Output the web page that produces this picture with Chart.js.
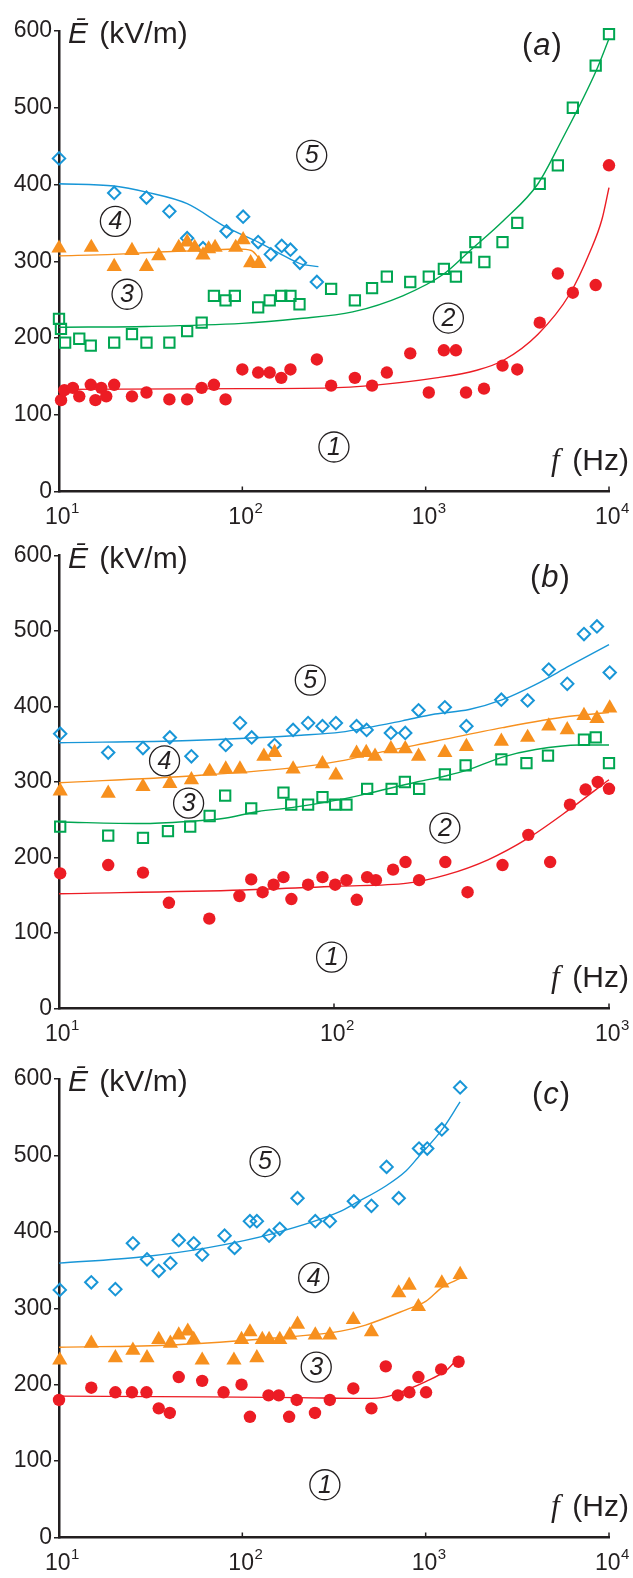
<!DOCTYPE html>
<html>
<head>
<meta charset="utf-8">
<script src="https://cdn.jsdelivr.net/npm/chart.js@4.4.1/dist/chart.umd.min.js"></script>
<style>
  html, body { margin: 0; padding: 0; background: #fff; }
  body { width: 633px; height: 1578px; position: relative; overflow: hidden; }
  .panel { position: absolute; left: 0; width: 633px; }
</style>
</head>
<body>
<div class="panel" style="top:0px;height:530px"><canvas id="chartA" width="633" height="530"></canvas></div>
<div class="panel" style="top:530px;height:520px"><canvas id="chartB" width="633" height="520"></canvas></div>
<div class="panel" style="top:1050px;height:528px"><canvas id="chartC" width="633" height="528"></canvas></div>
<script>
// tick values
const yTicks = [0, 100, 200, 300, 400, 500, 600]
const aTicks = [10, 100, 1000, 10000]
const bTicks = [10, 100, 1000]
const cTicks = [10, 100, 1000, 10000]

// ---- panel (a) ----
const aRedF = [10.26, 10.7, 11.9, 12.9, 14.9, 15.8, 17, 18.1, 20, 25, 30, 40, 50, 60, 70, 81, 100, 122, 141, 163, 183, 255, 305, 411, 510, 614, 824, 1040, 1257, 1462, 1660, 2080, 2625, 3160, 4190, 5260, 6350, 8460, 10000]
const aRedE = [119, 132, 135, 124, 139, 119, 135, 124, 139, 124, 129, 120, 120, 135, 139, 120, 159, 155, 155, 148, 159, 172, 138, 148, 138, 155, 180, 129, 184, 184, 129, 134, 164, 159, 220, 284, 259, 269, 425]
const aRedFitF = [10, 100, 300, 500, 1140, 1900, 2660, 4100, 6100, 7900, 9140, 10000]
const aRedFitE = [133, 134, 135, 138, 148, 158, 171, 205, 257, 313, 354, 396]

const aGreenF = [10, 10.25, 10.8, 12.9, 14.9, 20, 25, 30, 40, 50, 60, 70, 81, 91, 122, 141, 163, 183, 205, 305, 411, 510, 614, 824, 1040, 1257, 1462, 1660, 1866, 2090, 2625, 3160, 4190, 5260, 6350, 8460, 10000]
const aGreenE = [225, 212, 194, 199, 190, 194, 205, 194, 194, 209, 220, 255, 249, 255, 240, 249, 255, 255, 244, 264, 249, 265, 280, 273, 280, 290, 280, 305, 325, 299, 325, 350, 401, 425, 500, 555, 596]
const aGreenFitF = [10, 30, 100, 200, 400, 750, 1250, 1750, 2660, 4100, 5500, 8500, 10000]
const aGreenFitE = [214, 215, 219, 225, 234, 255, 283, 314, 353, 401, 457, 548, 590]

const aOrangeF = [10, 15, 20, 25, 30, 35, 45, 50, 55, 61, 65.5, 71, 92, 101, 111, 123]
const aOrangeE = [317, 318, 293, 314, 293, 307, 318, 325, 318, 308, 316, 318, 318, 328, 298, 297]
const aOrangeFitF = [10, 20, 35, 60, 95, 112, 125]
const aOrangeFitE = [307, 309, 312, 314, 316, 314, 302]

const aBlueF = [10, 20, 30, 40, 50, 61, 82, 101, 122, 143, 164, 183, 206, 255]
const aBlueE = [434, 389, 383, 365, 330, 317, 339, 358, 325, 309, 320, 315, 298, 273]
const aBlueFitF = [10, 20, 30, 50, 82, 122, 160, 206, 260]
const aBlueFitE = [401, 398, 390, 375, 344, 325, 310, 297, 293]

// ---- panel (b) ----
const bRedF = [10.1, 15.1, 20.2, 25.1, 35.2, 45.3, 50, 55, 60.3, 65.5, 70, 80.5, 90.8, 101, 111, 121, 132, 142, 164, 182, 204, 254, 306, 410, 509, 611, 721, 822, 910, 1000]
const bRedE = [179, 190, 180, 140, 119, 149, 171, 154, 164, 174, 145, 164, 174, 164, 170, 144, 174, 170, 184, 194, 170, 194, 154, 190, 230, 194, 270, 290, 300, 291]
const bRedFitF = [10, 47, 103, 185, 256, 363, 510, 720, 1000]
const bRedFitE = [152, 157, 162, 166, 177, 197, 226, 264, 303]

const bGreenF = [10.1, 15.1, 20.2, 24.9, 30, 35.3, 40.2, 50, 65.5, 69.9, 80.5, 90.8, 101, 111, 132, 162, 181, 204, 253, 301, 406, 501, 600, 811, 895, 1000]
const bGreenE = [241, 229, 226, 235, 241, 255, 282, 265, 286, 270, 270, 280, 270, 270, 291, 291, 300, 291, 310, 322, 330, 325, 335, 356, 359, 325]
const bGreenFitF = [10, 20, 30, 40, 53, 70, 106, 130, 200, 254, 301, 410, 541, 780, 1000]
const bGreenFitE = [247, 245, 248, 252, 261, 266, 277, 284, 300, 308, 315, 333, 343, 349, 349]

const bOrangeF = [10.1, 15.1, 20.2, 25.3, 30.3, 35.3, 40.4, 45.5, 55.6, 60.8, 71, 90.8, 101.6, 120.8, 131, 141, 161, 181.6, 203, 253, 303, 406, 506, 604, 705, 811, 904, 1006]
const bOrangeE = [288, 285, 294, 298, 303, 314, 317, 317, 334, 339, 317, 324, 309, 338, 339, 334, 344, 344, 334, 339, 347, 354, 359, 374, 369, 388, 384, 398]
const bOrangeFitF = [10, 30, 76, 106, 133, 233, 410, 720, 1000]
const bOrangeFitE = [299, 308, 320, 328, 336, 354, 372, 387, 392]

const bBlueF = [10.1, 15.1, 20.2, 25.3, 30.3, 40.4, 45.5, 50.2, 60.8, 71, 80.5, 90.8, 101.6, 120.8, 131.4, 161, 181.6, 203, 253, 303, 406, 506, 604, 705, 811, 904, 1006]
const bBlueE = [364, 339, 345, 359, 334, 349, 378, 359, 349, 369, 378, 374, 378, 374, 369, 365, 365, 395, 399, 374, 409, 408, 449, 430, 496, 506, 445]
const bBlueFitF = [10, 30, 76, 106, 133, 177, 233, 310, 410, 540, 720, 1000]
const bBlueFitE = [352, 355, 362, 366, 372, 381, 390, 396, 409, 429, 454, 482]

// ---- panel (c) ----
const cRedF = [10, 15, 20.3, 25, 30, 35, 40.2, 45, 60.4, 79, 99, 110, 139, 158, 180, 198, 249, 300, 403, 506, 606, 705, 815, 913, 1005, 1215, 1512]
const cRedE = [180, 196, 190, 190, 190, 169, 163, 210, 205, 190, 200, 158, 186, 186, 158, 180, 163, 180, 195, 169, 224, 186, 190, 210, 190, 220, 230]
const cRedFitF = [10, 64, 200, 470, 606, 783, 1000, 1300, 1440]
const cRedFitE = [185, 184, 183, 182, 184, 193, 204, 219, 230]

const cOrangeF = [10.1, 15, 20.3, 25.3, 30.2, 35, 40.5, 45, 50.4, 54.3, 60.4, 90, 99, 110, 120, 128.5, 140, 160, 181.6, 200, 250, 300, 403, 506, 713, 813, 913, 1225, 1542]
const cOrangeE = [232, 254, 235, 245, 235, 259, 254, 265, 270, 259, 232, 232, 259, 269, 235, 259, 259, 259, 265, 279, 265, 265, 285, 269, 320, 330, 302, 333, 344]
const cOrangeFitF = [10, 42, 149, 345, 470, 780, 1000, 1240, 1540]
const cOrangeFitE = [249, 252, 261, 270, 278, 298, 309, 328, 339]

const cBlueF = [10.1, 15, 20.3, 25.3, 30.2, 35, 40.5, 45, 54.3, 60.4, 80, 90.7, 110, 120, 140, 160, 200, 250, 300, 406, 506, 612, 713, 920, 1020, 1225, 1542]
const cBlueE = [324, 334, 325, 385, 364, 349, 359, 389, 385, 370, 395, 379, 414, 414, 395, 404, 444, 414, 414, 440, 434, 485, 444, 509, 509, 534, 589]
const cBlueFitF = [10, 28, 64, 149, 345, 403, 606, 783, 906, 1240, 1540]
const cBlueFitE = [359, 367, 379, 398, 427, 436, 460, 480, 497, 535, 570]

const INK = '#231f20'
const RED = '#ec1c24'
const GREEN = '#00a651'
const ORANGE = '#f7901e'
const BLUE = '#1896d7'

Chart.defaults.font.family = '"Liberation Sans", Arial, sans-serif'

const pts = (fs, es) => fs.map((f, i) => ({ x: f, y: es[i] }))

// marker sets
const dots = (fs, es) => ({ data: pts(fs, es), pointStyle: 'circle', pointRadius: 6.2, backgroundColor: RED, borderColor: RED, borderWidth: 0, showLine: false, order: 1, clip: false })
const squares = (fs, es) => ({ data: pts(fs, es), pointStyle: 'rect', pointRadius: 7.3, backgroundColor: 'rgba(0,0,0,0)', borderColor: GREEN, borderWidth: 2, showLine: false, order: 1, clip: false })
const tris = (fs, es) => ({ data: pts(fs, es), pointStyle: 'triangle', pointRadius: 8.8, backgroundColor: ORANGE, borderColor: ORANGE, borderWidth: 0, showLine: false, order: 1, clip: false })
const diamonds = (fs, es) => ({ data: pts(fs, es), pointStyle: 'rectRot', pointRadius: 6.2, backgroundColor: 'rgba(0,0,0,0)', borderColor: BLUE, borderWidth: 2, showLine: false, order: 1, clip: false })
// fitted curves
const fit = (fs, es, c) => ({ data: pts(fs, es), showLine: true, pointRadius: 0, borderColor: c, borderWidth: 1.4, cubicInterpolationMode: 'monotone', fill: false, order: 2, clip: false })

// texts and small marks on top of each panel
const deco = {
  id: 'deco',
  afterDraw(chart, args, o) {
    const ctx = chart.ctx, xs = chart.scales.x, ys = chart.scales.y, a = chart.chartArea
    ctx.save()
    ctx.fillStyle = INK
    ctx.strokeStyle = INK
    ctx.textBaseline = 'alphabetic'
    ctx.textAlign = 'left'

    // x ticks point inward, labels 10^n
    xs.ticks.forEach(t => {
      const px = xs.getPixelForValue(t.value)
      ctx.lineWidth = 1.5
      ctx.beginPath()
      ctx.moveTo(px, a.bottom)
      ctx.lineTo(px, a.bottom - 5)
      ctx.stroke()
      const ex = String(Math.round(Math.log10(t.value)))
      ctx.font = '23px "Liberation Sans"'
      const w1 = ctx.measureText('10').width
      ctx.font = '15px "Liberation Sans"'
      const w2 = ctx.measureText(ex).width
      const x0 = px - (w1 + w2) / 2 + 3
      ctx.font = '23px "Liberation Sans"'
      ctx.fillText('10', x0, a.bottom + 32)
      ctx.font = '15px "Liberation Sans"'
      ctx.fillText(ex, x0 + w1 + 0.5, a.bottom + 21)
    })

    // y title
    ctx.font = 'italic 30px "Liberation Sans"'
    ctx.fillText('\u0112', 68, a.top + 12)
    const wE = ctx.measureText('\u0112').width
    ctx.font = '30px "Liberation Sans"'
    ctx.fillText(' (kV/m)', 68 + wE + 3, a.top + 12)

    // x title
    ctx.font = 'italic 31px "Liberation Serif"'
    ctx.fillText('f', 551, a.bottom - 22)
    ctx.font = '30px "Liberation Sans"'
    ctx.textAlign = 'right'
    ctx.fillText('(Hz)', 629, a.bottom - 22)
    ctx.textAlign = 'left'

    // panel tag
    let tx = o.tagX
    const ty = a.top + o.tagDy
    ctx.font = '31px "Liberation Sans"'
    ctx.fillText('(', tx, ty); tx += ctx.measureText('(').width + 1
    ctx.font = 'italic 31px "Liberation Sans"'
    ctx.fillText(o.tag, tx, ty); tx += ctx.measureText(o.tag).width + 1
    ctx.font = '31px "Liberation Sans"'
    ctx.fillText(')', tx, ty)

    // circled curve numbers
    ctx.textAlign = 'center'
    ctx.textBaseline = 'middle'
    o.marks.forEach(m => {
      const px = xs.getPixelForValue(m[0]), py = ys.getPixelForValue(m[1])
      ctx.lineWidth = 1.3
      ctx.beginPath()
      ctx.arc(px, py, 15, 0, Math.PI * 2)
      ctx.stroke()
      ctx.font = 'italic 25px "Liberation Sans"'
      ctx.fillText(m[2], px, py + 1)
    })
    ctx.restore()
  }
}

const makePanel = (id, cfg) => new Chart(id, {
  type: 'scatter',
  data: { datasets: cfg.datasets },
  options: {
    responsive: false,
    animation: false,
    layout: { padding: { top: cfg.top, right: 24, left: 0, bottom: 0 } },
    plugins: { legend: { display: false }, tooltip: { enabled: false }, deco: cfg.deco },
    scales: {
      x: {
        type: 'logarithmic', min: 10, max: cfg.xMax,
        grid: { display: false },
        border: { color: INK, width: 2.5 },
        ticks: { display: false },
        afterBuildTicks: s => { s.ticks = cfg.xTicks.map(v => ({ value: v })) },
        afterFit: s => { s.height = cfg.xH }
      },
      y: {
        min: 0, max: 600,
        grid: { drawOnChartArea: false, color: INK, lineWidth: 1.5, tickLength: 5 },
        border: { color: INK, width: 2.5 },
        ticks: { color: INK, font: { size: 23 }, padding: 2 },
        afterBuildTicks: s => { s.ticks = yTicks.map(v => ({ value: v })) },
        afterFit: s => { s.width = 59 }
      }
    }
  },
  plugins: [deco]
})

makePanel('chartA', {
  top: 31, xH: 38.5, xMax: 10000, xTicks: aTicks,
  deco: { tag: 'a', tagX: 522, tagDy: 24, marks: [[239, 438, '5'], [20.3, 352, '4'], [23.5, 257, '3'], [1330, 226, '2'], [316, 58, '1']] },
  datasets: [
    dots(aRedF, aRedE), squares(aGreenF, aGreenE), tris(aOrangeF, aOrangeE), diamonds(aBlueF, aBlueE),
    fit(aRedFitF, aRedFitE, RED), fit(aGreenFitF, aGreenFitE, GREEN), fit(aOrangeFitF, aOrangeFitE, ORANGE), fit(aBlueFitF, aBlueFitE, BLUE)
  ]
})

makePanel('chartB', {
  top: 25.5, xH: 41.5, xMax: 1000, xTicks: bTicks,
  deco: { tag: 'b', tagX: 530, tagDy: 31.5, marks: [[82, 435, '5'], [24.2, 328, '4'], [29.6, 272, '3'], [253, 239, '2'], [98, 68, '1']] },
  datasets: [
    dots(bRedF, bRedE), squares(bGreenF, bGreenE), tris(bOrangeF, bOrangeE), diamonds(bBlueF, bBlueE),
    fit(bRedFitF, bRedFitE, RED), fit(bGreenFitF, bGreenFitE, GREEN), fit(bOrangeFitF, bOrangeFitE, ORANGE), fit(bBlueFitF, bBlueFitE, BLUE)
  ]
})

makePanel('chartC', {
  top: 29, xH: 40.5, xMax: 10000, xTicks: cTicks,
  deco: { tag: 'c', tagX: 532, tagDy: 25, marks: [[133, 492, '5'], [245, 340, '4'], [253, 223, '3'], [282, 69, '1']] },
  datasets: [
    dots(cRedF, cRedE), tris(cOrangeF, cOrangeE), diamonds(cBlueF, cBlueE),
    fit(cRedFitF, cRedFitE, RED), fit(cOrangeFitF, cOrangeFitE, ORANGE), fit(cBlueFitF, cBlueFitE, BLUE)
  ]
})
</script>
</body>
</html>
